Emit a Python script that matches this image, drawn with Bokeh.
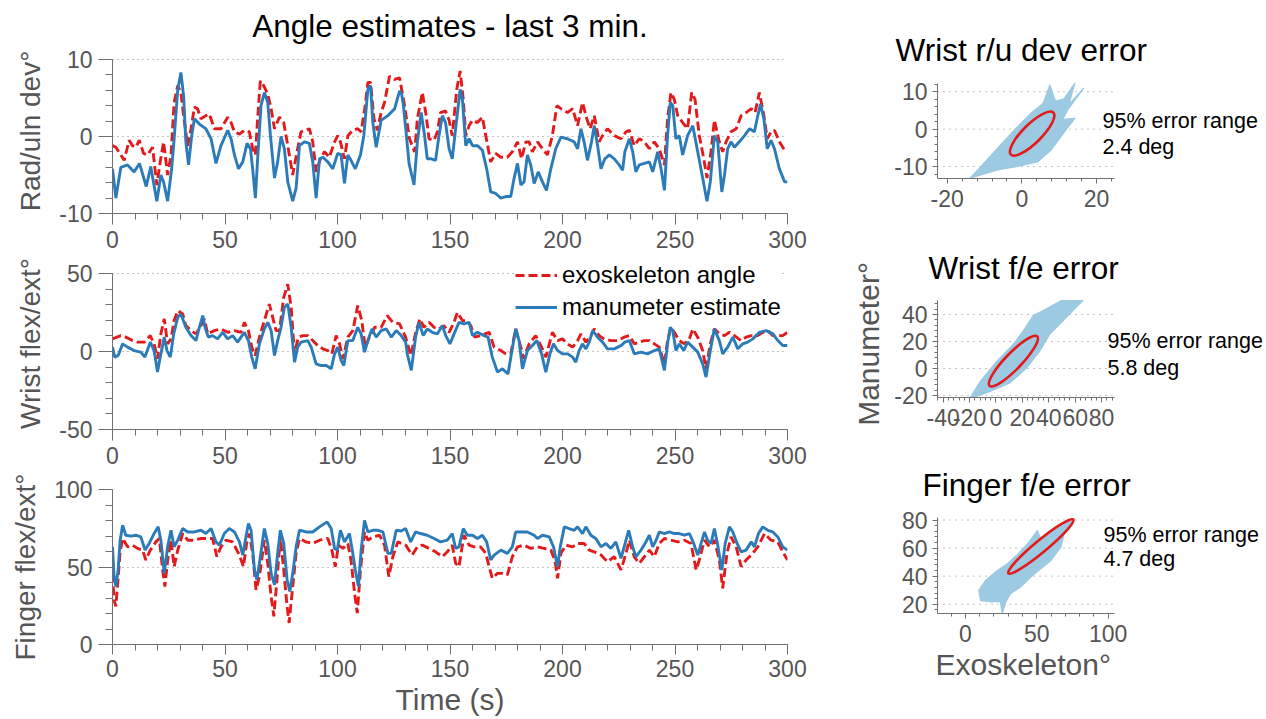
import numpy as np
from bokeh.plotting import figure
from bokeh.models import FixedTicker, Label, Title
from bokeh.layouts import row, column
from bokeh.embed import file_html
from bokeh.resources import INLINE

# ---------------- data ----------------
# Radial/ulnar deviation, (time s, angle deg)
ru_exo = [(0,-1.2),(1.5,-1.4),(3.7,-2.4),(5.2,-3.1),(7.4,-0.5),(8.9,-1.2),(10.4,-1.4),(11.9,-0.5),(13.8,-2.2),(15.6,-2.4),
          (17.8,-1.4),(19.7,-6.3),(21.2,-3.3),(22.7,-0.7),(24.5,-5.0),(26,-2.4),(27.4,4.4),(29,6.6),(30.4,5.7),(31.6,2.7),
          (33.4,-1.2),(34.9,1.0),(36.4,3.8),(37.8,3.6),(39.3,2.3),(41.5,2.7),(43,2.9),(45.3,1.0),(48.2,1.0),(51.2,2.5),
          (52.7,1.8),(54.2,0.6),(56.4,0.3),(58.6,0.8),(60.8,0.6),(62.3,-1.6),(63.5,-2.4),(64.5,2.3),(65.7,7.2),(67.2,6.6),
          (69,5.5),(70.5,3.6),(72,1.0),(74.2,2.5),(76.1,1.8),(77.9,-1.2),(80.1,-5.0),(82,-2.0),(83.8,0.6),(86,0.8),
          (87.5,1.0),(89,-0.7),(90.5,-4.6),(92.4,-2.9),(94.2,-2.0),(96.4,-2.7),(98.7,-0.7),(100.1,0.1),(101.3,-0.7),(103.1,-2.9),
          (104.6,0.1),(106.8,0.8),(109,1.0),(110.5,0.6),(112.3,4.0),(113.5,7.0),(114.7,7.0),(116.2,2.3),(117.7,0.8),(119.4,3.1),
          (120.9,4.4),(123.1,7.8),(125.4,7.4),(127.6,7.6),(129.8,4.0),(132,-0.3),(134.3,-2.0),(135.5,2.3),(137.7,5.7),(139.2,3.1),
          (140.7,-0.3),(142.9,-0.5),(144.4,0.6),(145.8,3.1),(148,3.3),(149.6,2.1),(151,0.1),(153,6.1),(154.5,8.5),(155.9,4.8),
          (157,0.1),(158.5,1.4),(160,2.1),(162.2,1.8),(164.4,2.5),(165.9,0.1),(168.1,-3.3),(170.3,-2.2),(172.6,-2.7),(175.5,-2.7),
          (177.7,-2.0),(180,-0.7),(181.8,-2.9),(183.7,-0.7),(185.2,-0.7),(186.6,-2.0),(188.9,-0.7),(191.1,-1.6),(193.3,-2.4),(195.5,0.1),
          (197.5,4.0),(199.3,3.6),(202.2,3.1),(204.5,3.6),(206.7,1.4),(208.9,4.4),(210.8,2.3),(212.3,1.0),(214.1,2.7),(216.3,-0.7),
          (217.8,0.1),(220,1.0),(223,0.1),(226,-0.3),(228.2,0.6),(229.7,0.8),(231.9,-1.2),(234.1,-0.3),(236.4,-0.7),(238.6,-1.6),
          (240.8,-0.7),(243,-1.6),(245.3,-3.7),(246.7,2.3),(248.2,5.7),(249.7,4.8),(251.2,2.7),(253.4,1.8),(255.6,1.0),(257.4,5.7),
          (258.9,4.8),(260.8,0.1),(262.8,-2.9),(264.2,-5.4),(266,-2.0),(267.5,2.1),(269.7,-0.7),(271.2,-2.0),(272.7,-0.7),(274.9,0.6),
          (277.2,1.0),(279.4,2.7),(281.6,3.1),(283.9,3.6),(285.6,3.1),(287.5,5.7),(289.5,2.7),(291,-0.3),(292.7,0.6),(294.2,0.8),
          (296.4,-0.7),(298.7,-1.8),(300,-1.8)]
ru_manu = [(0,-4.2),(1.5,-8.0),(3.7,-4.0),(6.7,-3.7),(9.6,-4.6),(12,-3.5),(15,-6.5),(17,-3.9),(19.7,-8.4),(21.5,-5.0),
           (22.7,-5.9),(24.5,-8.4),(26.3,-4.2),(27.4,-0.3),(29,6.1),(30.4,8.3),(31.6,5.3),(32.6,-0.7),(33.8,-3.7),(35.2,0.1),
           (36.4,2.3),(38.6,1.6),(41.5,1.0),(43.8,-0.3),(46,-3.5),(48.2,-1.2),(51.2,0.8),(52.7,-0.3),(54.2,-2.4),(56,-4.2),
           (57.9,-3.3),(59.8,-0.9),(61.3,-1.6),(62.3,-4.2),(63.5,-8.0),(64.5,-2.9),(66,4.0),(67.5,5.7),(69,4.4),(70.2,0.1),
           (72,-5.4),(73.4,-3.3),(74.9,0.0),(76.4,-1.6),(77.9,-5.9),(80.1,-8.4),(81.6,-6.7),(83.1,-1.2),(85.3,-0.7),(87.5,-0.9),
           (89,-3.3),(90.5,-8.0),(92,-2.9),(93.5,-2.7),(95.7,-3.3),(97.9,-4.2),(100.1,-2.2),(101.6,-2.4),(103.1,-6.1),(104.6,-2.4),
           (106,-3.1),(107.9,-4.2),(110.2,-2.4),(111.7,0.1),(113.5,6.1),(114.7,6.6),(115.7,1.8),(117.2,-1.4),(119.4,2.1),(122.4,2.7),
           (125.4,3.6),(127.6,5.9),(128.5,5.5),(129.3,4.0),(130.5,0.5),(131.8,-3.5),(134,-6.3),(135.5,-0.7),(137.2,3.1),(138.7,0.1),
           (139.9,-2.9),(141.7,-2.9),(143.6,-3.1),(145.1,0.1),(146.6,2.7),(148,1.8),(149.6,-1.6),(151,-2.9),(152.5,1.0),(154.5,6.1),
           (155.5,4.8),(157,-1.2),(158.5,-0.3),(160,-1.2),(162.2,-1.2),(164.4,-1.8),(166.3,-4.2),(168.1,-7.2),(170.3,-7.4),(172.6,-8.0),
           (174.8,-7.8),(177,-7.8),(178.5,-5.4),(180,-3.5),(181.5,-6.3),(182.9,-5.9),(184.4,-2.4),(185.9,-3.7),(187.4,-6.1),(189.2,-4.6),
           (191.1,-5.9),(192.9,-7.0),(194.8,-4.2),(197,-1.6),(199.3,-0.1),(202.2,-0.3),(205.2,-0.7),(206.7,-1.6),(208.2,1.0),(209.6,-0.7),
           (211.1,-3.1),(212.9,-0.7),(214.1,1.4),(215.6,-1.2),(217.1,-4.2),(218.8,-2.9),(220.8,-2.4),(223,-2.9),(225.2,-3.7),(226.7,-4.4),
           (227.7,-2.0),(229.7,-0.3),(231.2,-2.0),(232.6,-4.6),(234.1,-3.7),(236.4,-3.5),(238.6,-3.3),(240.1,-4.6),(242.3,-2.0),(243.8,-4.2),
           (245.3,-7.0),(246.7,0.1),(247.9,4.4),(249,4.0),(250.4,-0.3),(251.9,0.1),(253.4,-2.4),(255.6,0.1),(257.9,1.4),(260.1,-2.0),
           (262.3,-5.4),(264.2,-8.4),(265.7,-5.9),(267.5,0.1),(269,-0.7),(270.8,-7.2),(272,-5.0),(273.4,-1.6),(274.9,-0.7),(276.4,-1.4),
           (278.6,-0.7),(280.9,0.1),(283.1,1.0),(285.3,0.6),(286.8,2.7),(288,4.2),(289.5,2.3),(291,-1.6),(292.7,-0.5),(294.2,-1.6),
           (296.4,-4.2),(298.7,-5.9),(300,-5.9)]

# Wrist flexion/extension
fe_exo = [(0,8.1),(3.7,10.2),(5.9,9.2),(8.9,7.0),(11.1,6.0),(14.1,6.0),(16.8,10.2),(18.5,4.9),(20,-4.7),(21.5,11.3),
          (23,20.9),(24.5,4.9),(26,8.1),(27.4,19.8),(29,26.2),(31.2,24.0),(32.6,16.6),(34.9,13.4),(37.1,11.3),(39.3,16.6),
          (40.8,20.9),(42.3,11.3),(45.3,13.4),(48.2,14.5),(51.2,12.3),(54.2,13.4),(57.1,12.3),(58.6,18.7),(60.4,13.4),(61.9,2.8),
          (63.4,-2.6),(65.3,9.2),(67.5,19.8),(69.7,30.4),(71.2,21.9),(72.7,13.4),(74.2,13.4),(76.1,34.7),(77.9,43.2),(79.4,28.3),
          (80.9,-1.5),(82.6,9.2),(84.6,10.2),(86.8,10.2),(89,7.0),(91.2,3.8),(93.5,1.7),(95.7,0.6),(97.5,-1.5),(99.4,10.2),
          (100.9,4.9),(102.4,-4.7),(104.6,9.2),(106.8,13.4),(109,29.4),(110.8,19.8),(112.3,2.8),(114.2,9.2),(116.5,15.5),(119.4,15.5),
          (122.1,23.0),(124.6,18.7),(127.6,17.7),(130.3,9.0),(132.6,-2.6),(134.8,12.4),(136.6,20.9),(138.4,15.5),(140.7,18.7),(142.9,15.5),
          (145.1,14.5),(147.3,16.6),(149.6,12.3),(151.8,18.7),(153.3,25.1),(155.5,19.8),(157.7,19.8),(159.2,16.6),(161,9.2),(163.6,10.2),
          (167.4,12.3),(169.6,2.8),(172.6,0.6),(174.8,-1.5),(177,-1.5),(179.2,14.5),(181.5,2.8),(182.6,-4.7),(185.2,4.9),(188.1,10.2),
          (190.4,3.8),(192.6,-3.6),(195.5,12.3),(197.8,7.0),(200,8.1),(202.2,4.9),(204.5,2.8),(206.7,7.0),(208.2,11.3),(210.4,6.0),
          (212.6,10.2),(214.1,14.5),(216.3,10.2),(218.5,8.1),(221.5,7.0),(224.5,7.0),(227.4,9.2),(229.7,10.2),(231.9,4.9),(234.1,6.0),
          (236.4,7.0),(238.6,7.0),(240.8,4.9),(243,2.8),(245.3,-7.9),(246.7,7.0),(248.2,15.5),(249.7,12.3),(251.9,7.0),(254.2,4.9),
          (256.4,8.1),(257.9,14.5),(260.1,9.2),(262.3,0.6),(263.8,-11.1),(265.7,4.9),(267.5,14.5),(269.7,11.3),(272,10.2),(274.2,12.3),
          (276.4,10.2),(279.4,7.0),(281.6,9.2),(283.9,10.2),(286.8,10.2),(289,12.3),(291.2,13.4),(293.5,10.2),(295.7,10.2),(297.9,10.2),
          (300,12.3)]
fe_manu = [(0,2.8),(1,-3.6),(2.5,-2.6),(4.5,4.9),(6.7,2.8),(9.6,0.6),(12.6,-0.4),(14.4,-3.6),(16.8,6.0),(18.5,0.6),
           (20,-13.2),(21.5,-1.5),(23,9.2),(24.2,0.6),(25.7,-3.6),(27.2,11.3),(29,21.9),(30.4,24.0),(32.6,15.5),(34.9,10.2),
           (37.1,7.0),(38.6,15.5),(40.1,23.0),(41.1,15.5),(42.6,9.2),(44.5,10.2),(46.7,8.1),(49,12.3),(51.2,8.1),(53.4,10.2),
           (55.6,6.0),(58.6,12.3),(60.4,7.0),(61.9,-3.6),(63.4,-11.1),(65.3,4.9),(67.5,14.5),(69,18.7),(70.5,13.4),(72,-2.6),
           (73.4,7.0),(74.9,15.5),(76.4,28.3),(77.9,30.4),(79.4,15.5),(80.9,-6.8),(82.3,2.8),(83.8,6.0),(86.8,7.0),(88.3,2.8),
           (90.5,-7.9),(92.7,-9.0),(95,-9.0),(97.2,-11.1),(98.7,-1.5),(100.1,2.8),(101.6,-5.7),(102.8,-9.0),(104.6,7.0),(106.8,7.0),
           (109,15.5),(110.5,11.3),(112,-0.4),(113.5,7.0),(115.3,14.5),(117.2,9.2),(119.4,13.4),(121.7,14.5),(123.9,9.2),(126.1,13.4),
           (128.3,10.2),(130.3,6.0),(131,-1.5),(132.8,-12.1),(134.7,9.2),(136.2,18.7),(138.1,10.2),(139.9,14.5),(142.1,12.3),(144.4,11.3),
           (146.6,16.6),(148.1,10.2),(150,4.9),(151.8,11.3),(154,18.7),(156.2,17.7),(158.5,18.7),(160,10.2),(162.2,12.3),(165.1,10.2),
           (166.9,9.2),(168.8,-3.6),(171.1,-13.2),(173.3,-11.1),(175.8,-14.3),(177.3,-1.5),(179.2,14.5),(180.7,7.0),(182.2,-11.1),(184.4,0.6),
           (186.6,3.8),(188.6,7.0),(190.7,-1.5),(192.6,-13.2),(194.4,-1.5),(196,4.9),(197.8,0.6),(200,-1.5),(202.2,-1.5),(204.5,-3.6),
           (205.9,-6.8),(207.4,0.6),(208.9,4.9),(210.4,1.7),(211.9,6.0),(213.4,13.4),(215.6,9.2),(217.8,6.0),(220,1.7),(223,1.7),
           (226,3.8),(227.7,6.0),(229.7,7.0),(231.9,-1.5),(234.9,-0.4),(237.8,-1.5),(240.8,0.6),(243,1.7),(245.3,-12.1),(246.7,4.9),
           (247.9,15.5),(249,13.4),(250.4,0.6),(251.9,4.9),(253.9,0.6),(255.6,6.0),(257.9,2.8),(260.1,-0.4),(262.3,-7.9),(263.8,-16.4),
           (265.7,0.6),(267.5,14.5),(269.7,7.0),(271.2,-1.5),(273.4,2.8),(275.7,9.2),(277.9,1.7),(280.1,4.9),(282.3,6.0),(284.6,8.1),
           (287.5,12.3),(290.5,13.4),(293.5,11.3),(295.7,7.0),(297.9,3.8),(300,3.8)]

# Finger flexion/extension
fi_exo = [(0,45.9),(0.7,28.8),(1.5,24.6),(2.2,37.4),(3.4,59.8),(4.5,68.4),(6.7,63.0),(8.9,64.1),(11.1,62.0),(13.4,60.9),
          (14.8,54.5),(16.8,60.9),(19.3,66.2),(20.8,68.4),(22.3,48.1),(23.3,37.4),(24.5,54.5),(26,67.3),(27.4,50.2),(29,60.9),
          (31.2,71.6),(33.4,67.3),(36.4,67.3),(39.3,68.4),(42.3,68.4),(44.5,68.4),(46.4,56.6),(48.2,63.0),(50.4,67.3),(53.4,66.2),
          (56.4,57.7),(58.2,50.2),(59.6,65.2),(60.8,71.6),(62.3,58.8),(63.8,35.3),(65.3,43.8),(67.5,67.3),(69,52.4),(70.5,31.0),
          (71.7,18.2),(73.1,41.7),(74.6,69.4),(76.1,48.1),(77.6,24.6),(78.5,13.9),(80.1,37.4),(81.6,58.8),(83.1,68.4),(86,66.2),
          (89,65.2),(92,67.3),(95.7,68.4),(97.5,60.9),(99,50.2),(100.4,64.1),(102.4,62.0),(104.6,65.2),(106,54.5),(107.6,33.1),
          (108.8,20.3),(110.2,48.1),(112,72.6),(113.5,67.3),(115.7,69.4),(118.7,70.5),(120.9,64.1),(122.8,43.8),(124.6,56.6),(126.8,66.2),
          (130.3,64.1),(133.2,57.7),(135.5,63.0),(137.7,64.1),(140.7,62.0),(143.6,59.8),(146.6,56.6),(148.8,59.8),(151,64.1),(152.5,52.4),
          (154,50.2),(156.2,70.5),(158.5,64.1),(160.7,63.0),(163.6,63.0),(165.9,58.8),(167.4,50.2),(168.8,42.7),(171.1,45.9),(173.3,45.9),
          (175.5,44.9),(177.7,56.6),(180,63.0),(182.9,64.1),(185.9,62.0),(188.9,63.0),(191.8,62.0),(194.8,60.9),(196.6,54.5),(197.8,42.7),
          (199.3,58.8),(201.5,64.1),(204.5,63.0),(206.7,65.2),(209.6,65.2),(211.9,60.9),(214.1,59.8),(217.1,57.7),(220,53.4),(223,56.6),
          (226,48.1),(228.2,58.8),(229.7,67.3),(231.9,56.6),(234.1,52.4),(236.4,56.6),(238.6,60.9),(240.8,56.6),(243,65.2),(245.3,68.4),
          (248.2,67.3),(251.2,66.2),(254.2,67.3),(257.1,65.2),(259.4,48.1),(260.8,54.5),(263.1,67.3),(265.4,63.0),(267.5,67.3),(269.7,54.5),
          (271.2,36.3),(273.1,58.8),(274.9,69.4),(277.2,63.0),(279.4,50.2),(281.6,54.5),(283.9,57.7),(286.8,63.0),(289.8,71.6),(292.7,67.3),
          (295.7,66.2),(297.9,59.8),(300,54.5)]
fi_manu = [(0,63.0),(0.7,43.8),(1.5,37.4),(2.5,48.1),(3.4,67.3),(4.5,76.9),(5.9,70.5),(8.2,69.9),(10.4,70.5),(12.6,69.4),
           (14.5,60.9),(16.3,65.2),(18.5,71.6),(20.3,75.9),(21.5,67.3),(23,45.9),(24.5,63.0),(26,73.7),(27.4,63.0),(29,67.3),
           (31.2,74.8),(33.4,72.6),(36.4,72.6),(39.3,73.7),(41.5,71.6),(43.8,74.8),(46,66.2),(47.5,64.1),(49.7,71.6),(51.9,74.8),
           (54.2,72.6),(56.4,66.2),(57.9,57.7),(59.3,69.4),(60.4,78.0),(61.6,73.7),(63.1,48.1),(64.2,41.7),(65.7,56.6),(67.5,74.8),
           (69,65.2),(70.5,45.9),(72,38.5),(73.4,58.8),(74.6,73.7),(76.1,65.2),(77.6,41.7),(78.8,34.2),(80.1,45.9),(81.6,63.0),
           (83.1,73.7),(86,72.6),(89,72.6),(92,75.9),(95.4,79.1),(97.2,74.8),(98.7,62.0),(99.9,60.9),(101.3,73.7),(103.1,66.2),
           (105.3,71.6),(106.8,58.8),(107.9,48.1),(109.3,37.4),(110.5,60.9),(112,80.1),(113.5,72.6),(115.7,73.7),(118,73.7),(120.2,72.6),
           (122.4,58.8),(123.9,58.8),(126.1,73.7),(128.3,73.2),(130.3,74.8),(132.5,66.2),(134.7,72.6),(136.9,71.6),(139.9,70.5),(142.9,68.4),
           (145.8,66.2),(148.8,67.3),(151,71.6),(152.5,62.0),(154,63.0),(155.9,74.8),(157.7,70.5),(160,70.5),(162.2,68.4),(164.4,70.5),
           (166.3,66.2),(168.1,54.5),(169.6,57.7),(172.6,60.9),(175.5,58.8),(177.7,63.0),(179.2,72.6),(181.5,72.6),(184.4,72.6),(187.4,70.5),
           (188.9,68.4),(191.1,70.5),(194.1,69.4),(196,63.0),(197.8,50.2),(199,63.0),(200.8,75.9),(203,74.8),(205.2,73.7),(206.7,75.9),
           (208.9,71.6),(210.4,75.9),(212.6,70.5),(214.8,68.4),(217.1,63.0),(219.3,65.2),(221.5,62.0),(223.7,66.2),(226,55.6),(227.4,63.0),
           (229.4,73.7),(231.2,63.0),(232.6,56.6),(234.9,60.9),(237.1,66.2),(238.6,70.5),(240.1,63.0),(241.6,67.3),(243,72.6),(245.3,71.6),
           (247.5,72.6),(249.7,71.6),(251.9,71.6),(254.2,70.5),(256.4,71.6),(258.3,65.2),(260.1,57.7),(261.6,65.2),(263.1,72.6),(264.5,67.3),
           (266,65.2),(267.5,74.8),(269,64.1),(270.8,48.1),(272.3,65.2),(274.2,75.9),(275.7,72.6),(277.6,65.2),(279.4,59.8),(281.6,60.9),
           (283.9,66.2),(285.3,63.0),(287.1,71.6),(289,75.9),(291.2,73.7),(293.5,72.6),(295.7,69.4),(297.9,63.0),(300,60.9)]

# Error scatter clouds (exoskeleton deg, manumeter deg): outline of the dense region
ru_cloud = [(-13.9,-13.1),(-6.5,-10.9),(-1.1,-10.0),(4.3,-8.7),(7.9,-5.5),(11.5,-0.6),(14.2,2.9),(10.9,2.6),(12.5,5.5),
            (16.5,10.9),(12.6,6.6),(14.2,12.3),(11.2,8.0),(9.0,7.5),(7.5,11.8),(5.7,6.9),(2.5,4.3),(-2.0,-0.2),(-6.5,-5.1),(-11.0,-10.0)]
fe_cloud = [(-20.0,-22.5),(-4.4,-17.0),(10.7,-10.7),(23.3,0.5),(33.3,13.0),(40.8,25.5),(50.8,35.4),(60.9,45.5),(65.9,50.4),
            (49.6,50.4),(35.8,42.9),(28.2,39.2),(20.7,27.9),(13.2,18.0),(0.7,5.5),(-11.9,-9.5),(-18.2,-19.5)]
fi_cloud = [(25.8,13.4),(24.5,22.0),(17.6,21.6),(10.6,22.8),(9.4,29.9),(14.1,37.0),(22.3,44.1),(29.4,48.8),(36.0,55.0),
            (43.4,63.0),(50.5,72.4),(53.0,66.0),(64.6,76.0),(76.3,80.7),(69.2,70.1),(66.9,60.6),(59.9,51.2),(52.8,45.3),
            (45.8,39.3),(38.7,32.3),(31.7,27.6),(28.5,22.0)]

# 95% error ellipses: centre x, centre y, major axis, minor axis, angle (deg)
ru_ellipse = (2.75, -1.2, 16.0, 5.0, 44.7)
fe_ellipse = (13.2, 5.45, 52.0, 12.0, 46.0)
fi_ellipse = (52.85, 61.2, 59.0, 8.6, 39.7)
ru_err, fe_err, fi_err = "2.4 deg", "5.8 deg", "4.7 deg"

# ---------------- styling ----------------
FONT = "Liberation Sans"
BLUE = "#2c7bb9"
RED = "#e31a1c"
CLOUD = "#9ccae2"
LABEL_COL = "#555555"
AXIS_COL = "#707070"
GRID_COL = "#8a8a8a"
SC_EXTRA = 150        # pixels right of each scatter frame kept for its note


def style_axis(ax, ticks, minor, tick_out, minor_out, standoff, bounds, size="23px"):
    ax.ticker = FixedTicker(ticks=ticks, minor_ticks=minor)
    ax.major_label_overrides = {t: str(t) for t in ticks}   # plain hyphen minus like the original
    ax.bounds = bounds
    ax.axis_line_color = AXIS_COL
    ax.major_tick_line_color = AXIS_COL
    ax.minor_tick_line_color = AXIS_COL
    ax.major_tick_in = 0
    ax.minor_tick_in = 0
    ax.major_tick_out = tick_out
    ax.minor_tick_out = minor_out
    ax.major_label_text_font = FONT
    ax.major_label_text_font_size = size
    ax.major_label_text_color = LABEL_COL
    ax.major_label_standoff = standoff
    ax.axis_label_text_font = FONT
    ax.axis_label_text_font_size = "28px"
    ax.axis_label_text_font_style = "normal"
    ax.axis_label_text_color = LABEL_COL


def base_fig(width, height, xr, yr, left, right, top, bottom, title=None):
    p = figure(width=width, height=height, x_range=xr, y_range=yr,
               min_border_left=left, min_border_right=right,
               min_border_top=top, min_border_bottom=bottom,
               output_backend="svg", toolbar_location=None, title=title)
    p.outline_line_color = None
    p.xgrid.visible = False
    p.ygrid.grid_line_color = GRID_COL
    p.ygrid.grid_line_dash = "1 4"
    p.ygrid.grid_line_width = 1
    if title:
        p.title.text_font = FONT
        p.title.text_font_size = "31.5px"
        p.title.text_font_style = "normal"
        p.title.text_color = "black"
        p.title.align = "center"
        p.title.standoff = 10
    return p


def split(pairs):
    a = np.array(pairs, dtype=float)
    return a[:, 0], a[:, 1]


def extend(a0, a1, px, extra):
    # stretch a range so that `extra` pixels are added past a1 (space for titles / legend / notes)
    return a1 + (a1 - a0) * extra / px


def ts_panel(height, top, bottom, y0, y1, ext_top, yticks, yminor, ylabel, exo, manu,
             title=None, xlabel=None, legend=False, xtick_out=11, xstand=6):
    p = base_fig(807, height, (0, 300), (y0, extend(y0, y1, 156, ext_top)), 112, 20, top, bottom, title)
    style_axis(p.xaxis[0], list(range(0, 301, 50)), list(range(0, 301, 10)), xtick_out, 6, xstand, (0, 300))
    style_axis(p.yaxis[0], yticks, yminor, 14, 7, 6, (y0, y1))
    p.yaxis.axis_label = ylabel
    p.yaxis.axis_label_standoff = 10
    if xlabel:
        p.xaxis.axis_label = xlabel
        p.xaxis.axis_label_text_font_size = "30px"
        p.xaxis.axis_label_standoff = 3
    te, ve = split(exo)
    tm, vm = split(manu)
    kw_e = dict(legend_label="exoskeleton angle") if legend else {}
    kw_m = dict(legend_label="manumeter estimate") if legend else {}
    p.line(te, ve, line_color=RED, line_width=2.9, line_dash="9 4", **kw_e)
    p.line(tm, vm, line_color=BLUE, line_width=2.9, **kw_m)
    if legend:
        lg = p.legend[0]
        lg.location = (403, 106)
        lg.label_text_font = FONT
        lg.label_text_font_size = "24px"
        lg.label_text_color = "black"
        lg.label_height = 32
        lg.glyph_height = 32
        lg.glyph_width = 42
        lg.label_standoff = 5
        lg.padding = 0
        lg.spacing = 0
        lg.margin = 0
        lg.border_line_color = None
        lg.background_fill_color = "white"
        lg.background_fill_alpha = 1.0
    return p


p1 = ts_panel(257, 46, 44, -10, 10, 11, [-10, 0, 10], list(range(-10, 11, 2)), "Rad/uln dev°",
              ru_exo, ru_manu, title="Angle estimates - last 3 min.")
p2 = ts_panel(216, 0, 44, -50, 50, 16, [-50, 0, 50], list(range(-50, 51, 10)), "Wrist flex/ext°",
              fe_exo, fe_manu, legend=True)
p3 = ts_panel(245, 16, 73, 0, 100, 0, [0, 50, 100], list(range(0, 101, 10)), "Finger flex/ext°",
              fi_exo, fi_manu, xlabel="Time (s)", xtick_out=10, xstand=5)


def sc_panel(height, top, bottom, x0, x1, y0, y1, fh, ext_top, xt, xm, yt, ym, title, title_off,
             cloud, ell, err, txt_x, txt_y1, txt_y2, xlabel=None, ylabel=None):
    xr = (x0, extend(x0, x1, 177, SC_EXTRA))
    yr = (y0, extend(y0, y1, fh, ext_top))
    p = base_fig(130 + 177 + SC_EXTRA, height, xr, yr, 130, 0, top, bottom, title)
    p.title.align = "left"
    p.title.offset = title_off
    p.ygrid.visible = False
    style_axis(p.xaxis[0], xt, xm, 5, 3, 6, (x0, x1))
    style_axis(p.yaxis[0], yt, ym, 5, 3, 5, (y0, y1))
    # dotted horizontal grid limited to the drawn axis extent
    p.segment(x0=[x0] * len(yt), x1=[x1] * len(yt), y0=yt, y1=yt,
              line_color=GRID_COL, line_dash="1 5", line_width=1)
    if ylabel:
        p.yaxis.axis_label = ylabel
        p.yaxis.axis_label_text_font_size = "30px"
        p.yaxis.axis_label_standoff = 6
    if xlabel:
        p.add_layout(Title(text=xlabel, align="left", offset=-2, standoff=2, text_font=FONT,
                           text_font_size="30px", text_font_style="normal", text_color=LABEL_COL), "below")
    cx, cy = split(cloud)
    p.patch(cx, cy, fill_color=CLOUD, line_color=CLOUD, line_width=1.2, line_join="round")
    p.ellipse(x=[ell[0]], y=[ell[1]], width=[ell[2]], height=[ell[3]], angle=[ell[4]], angle_units="deg",
              fill_color=CLOUD, line_color=RED, line_width=2.6)
    for yy, tx in ((txt_y1, "95% error range"), (txt_y2, err)):
        p.add_layout(Label(x=txt_x, y=yy, text=tx, text_font=FONT, text_font_size="21.5px",
                           text_color="black", text_baseline="middle", text_align="left"))
    return p


s1 = sc_panel(222, 72, 44, -22.6, 24.8, -13.2, 12.2, 95, 11, [-20, 0, 20], list(range(-20, 25, 4)),
              [-10, 0, 10], list(range(-12, 13, 2)), "Wrist r/u dev error", -42, ru_cloud, ru_ellipse, ru_err,
              21.6, 2.3, -4.9)
s2 = sc_panel(225, 68, 50, -44.3, 89.8, -21.5, 50.4, 97, 10, [-40, -20, 0, 20, 40, 60, 80], list(range(-44, 89, 4)),
              [-20, 0, 20, 40], list(range(-20, 50, 4)), "Wrist f/e error", -9, fe_cloud, fe_ellipse, fe_err,
              84.5, 20.7, 0.7, ylabel="Manumeter°")
s3 = sc_panel(271, 60, 105, -19.5, 104.4, 13.4, 81.8, 96, 10, [0, 50, 100], list(range(-10, 104, 10)),
              [20, 40, 60, 80], list(range(16, 81, 4)), "Finger f/e error", -15, fi_cloud, fi_ellipse, fi_err,
              96.7, 69.0, 51.9, xlabel="Exoskeleton°")

layout = row(column(p1, p2, p3), column(s1, s2, s3))
open("out.html", "w").write(file_html(layout, INLINE, title="Angle estimates"))
